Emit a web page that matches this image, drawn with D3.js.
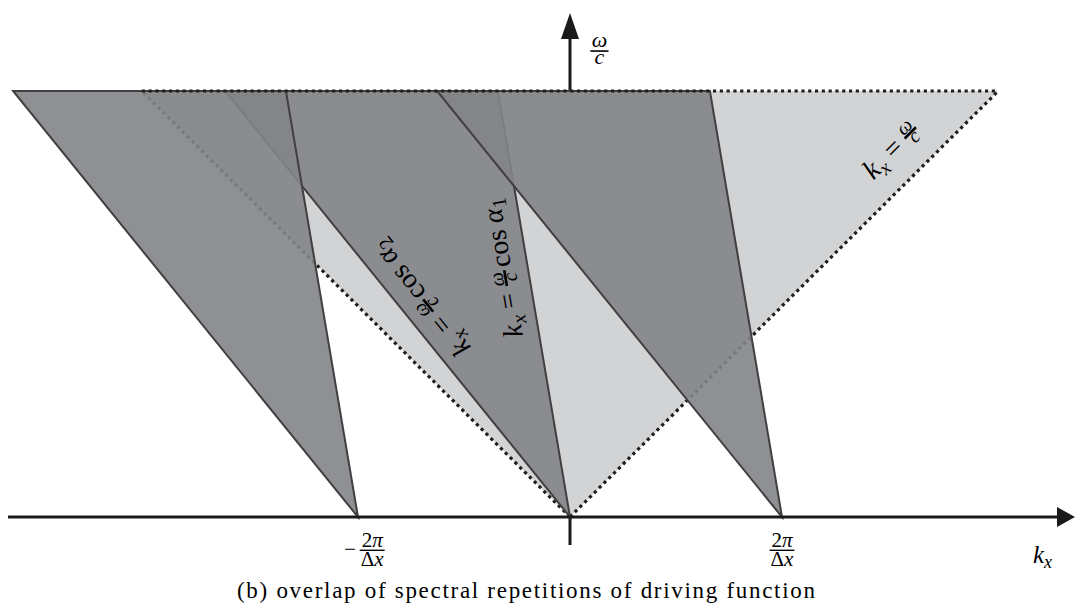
<!DOCTYPE html>
<html>
<head>
<meta charset="utf-8">
<script src="https://cdn.jsdelivr.net/npm/d3@7"></script>
<style>
  html, body { margin: 0; padding: 0; background: #fff; }
  svg { display: block; }
  text { font-family: "Liberation Serif", "DejaVu Serif", serif; fill: #000; }
</style>
</head>
<body>
<svg id="chart" width="1075" height="610"></svg>
<script>
// ---------------- data (units: k in 2π/Δx, ω/c in same units) ----------------
const repetitions = [0, -1, 1];          // spectral repetitions n·2π/Δx (draw order)
const omegaTop = 2.0;                    // top of drawn region (ω/c)
const edgeAlpha2 = -0.8135;              // kx = ω/c · cos α2   (slope)
const edgeAlpha1 = -0.170;               // kx = ω/c · cos α1   (slope)
const coneSlope = 1.01;                  // kx = ±ω/c
const tickValues = [-1, 1];
const tickSigns = ["−", ""];
const tickNum = [["2", false], ["π", true]];
const tickDen = [["Δ", false], ["x", true]];
const caption = "(b) overlap of spectral repetitions of driving function";

// ---------------- scales ----------------
const x = d3.scaleLinear().domain([0, 1]).range([570, 782]);
const y = d3.scaleLinear().domain([0, 2]).range([517, 91]);

const svg = d3.select("#chart");

// ---------------- math text helper ----------------
function addRuns(g, runs, fs) {
  const t = g.append("text").attr("font-size", fs);
  runs.forEach(([s, it]) => t.append("tspan").style("font-style", it ? "italic" : "normal").text(s));
  return t;
}
function layoutMath(g, items, fs) {
  let cx = 0;
  for (const it of items) {
    if (it.space) { cx += it.space * fs; continue; }
    if (it.runs) {
      const f = fs * (it.scale || 1);
      const t = addRuns(g, it.runs, f).attr("x", cx).attr("y", (it.dy || 0) * fs);
      cx += t.node().getComputedTextLength() + (it.gap || 0) * fs;
    } else if (it.num) {
      const sf = fs * it.scale;
      const n = addRuns(g, it.num, sf).attr("text-anchor", "middle");
      const d = addRuns(g, it.den, sf).attr("text-anchor", "middle");
      const w = Math.max(n.node().getComputedTextLength(), d.node().getComputedTextLength()) + (it.pad || 0.12) * fs;
      const x0 = cx + 0.06 * fs;
      const mid = x0 + w / 2;
      const bar = -0.27 * fs;
      n.attr("x", mid).attr("y", bar - (it.ng || 0.12) * fs);
      d.attr("x", mid).attr("y", bar + (it.dg || 0.1) * fs + sf * it.denH);
      g.append("line").attr("x1", x0).attr("x2", x0 + w).attr("y1", bar).attr("y2", bar)
        .attr("stroke", "#000").attr("stroke-width", it.bw || 0.07 * fs);
      cx += w + 0.12 * fs;
    }
  }
  return cx;
}
function mathLabel(px, py, angle, items, fs) {
  const outer = svg.append("g").attr("transform", `translate(${px},${py}) rotate(${angle})`);
  const inner = outer.append("g");
  const w = layoutMath(inner, items, fs);
  inner.attr("transform", `translate(${-w / 2},${0.3 * fs})`);
  return outer;
}

// ---------------- vertical axis (under fills) ----------------
svg.append("line").attr("x1", x(0)).attr("x2", x(0)).attr("y1", y(0) + 28).attr("y2", 34)
  .attr("stroke", "#1a1a1a").attr("stroke-width", 3);
svg.append("path").attr("d", `M${x(0)},13 L${x(0) - 9},39 L${x(0) + 9},39 Z`).attr("fill", "#1a1a1a");

// ---------------- light cone |kx| < ω/c ----------------
const conePts = [[0, 0], [-coneSlope * omegaTop, omegaTop], [coneSlope * omegaTop, omegaTop]];
svg.append("path")
  .attr("d", d3.line().x(d => x(d[0])).y(d => y(d[1]))(conePts) + "Z")
  .attr("fill", "#d2d3d5");
const dotted = { stroke: "#1e1e1e", "stroke-width": 3.2, "stroke-dasharray": "3.2,3.6" };
function dottedLine(a, b) {
  const l = svg.append("line").attr("x1", x(a[0])).attr("y1", y(a[1])).attr("x2", x(b[0])).attr("y2", y(b[1]));
  Object.entries(dotted).forEach(([k, v]) => l.attr(k, v));
  return l;
}
dottedLine(conePts[0], conePts[1]);
dottedLine(conePts[0], conePts[2]);

// ---------------- spectral repetitions (triangles) ----------------
repetitions.forEach(n => {
  const pts = [[n, 0], [n + edgeAlpha2 * omegaTop, omegaTop], [n + edgeAlpha1 * omegaTop, omegaTop]];
  svg.append("path")
    .attr("d", d3.line().x(d => x(d[0])).y(d => y(d[1]))(pts) + "Z")
    .attr("fill", "rgb(131,132,136)").attr("fill-opacity", 0.9)
    .attr("stroke", "#404040").attr("stroke-width", 2).attr("stroke-linejoin", "miter");
});
// top edge of cone stays visible
dottedLine(conePts[1], conePts[2]);

// ---------------- horizontal axis ----------------
svg.append("line").attr("x1", 8).attr("x2", 1060).attr("y1", y(0)).attr("y2", y(0))
  .attr("stroke", "#1a1a1a").attr("stroke-width", 3);
svg.append("path").attr("d", `M1075,${y(0)} L1057,${y(0) - 10} L1057,${y(0) + 10} Z`).attr("fill", "#1a1a1a");

// ---------------- tick labels ----------------
tickValues.forEach((v, i) => {
  const g = svg.append("g");
  const inner = g.append("g");
  const items = [];
  if (tickSigns[i]) items.push({ runs: [[tickSigns[i], false]], gap: 0.12 });
  items.push({ num: tickNum, den: tickDen, scale: 1.0, denH: 0.7, bw: 1.4, ng: 0.14, dg: 0.06, pad: 0.1 });
  const w = layoutMath(inner, items, 21);
  const off = tickSigns[i] ? 7 : 0;
  inner.attr("transform", `translate(${x(v) - w / 2 + off},${556})`);
});

// axis names
{
  const g = svg.append("g").attr("transform", "translate(1033,563)");
  layoutMath(g, [{ runs: [["k", true]] }, { runs: [["x", true]], scale: 0.72, dy: 0.2 }], 25);
}
{
  const g = svg.append("g").attr("transform", "translate(589,57)");
  layoutMath(g, [{ num: [["ω", true]], den: [["c", true]], scale: 1.0, denH: 0.45, bw: 1.6, ng: 0.2, dg: 0.14 }], 22);
}

// ---------------- line labels ----------------
const fsL = 28;
const kxItems = [{ runs: [["k", true]] }, { runs: [["x", true]], scale: 0.72, dy: 0.2 }, { space: 0.26 },
  { runs: [["=", false]] }, { space: 0.2 }];
const fracItem = { num: [["ω", true]], den: [["c", true]], scale: 0.72, denH: 0.45, bw: 2.6, ng: 0.08, dg: 0.08, pad: 0.06 };
// kx = ω/c  (light cone edge)
mathLabel(892, 150, -45, [...kxItems, fracItem], fsL);
// kx = ω/c cos α1
mathLabel(503, 268, Math.atan2(-(y(0) - y(omegaTop)), x(edgeAlpha1 * omegaTop) - x(0)) * 180 / Math.PI,
  [...kxItems, fracItem, { space: 0.06 }, { runs: [["cos ", false], ["α", true]] }, { runs: [["1", false]], scale: 0.72, dy: 0.2 }], fsL);
// kx = ω/c cos α2
mathLabel(421, 298, Math.atan2(-(y(0) - y(omegaTop)), x(edgeAlpha2 * omegaTop) - x(0)) * 180 / Math.PI,
  [...kxItems, fracItem, { space: 0.06 }, { runs: [["cos ", false], ["α", true]] }, { runs: [["2", false]], scale: 0.72, dy: 0.2 }], fsL);

// ---------------- caption ----------------
svg.append("text").attr("x", 526).attr("y", 598).attr("text-anchor", "middle")
  .attr("font-size", 23).attr("textLength", 578).attr("lengthAdjust", "spacing").text(caption);
</script>
</body>
</html>
